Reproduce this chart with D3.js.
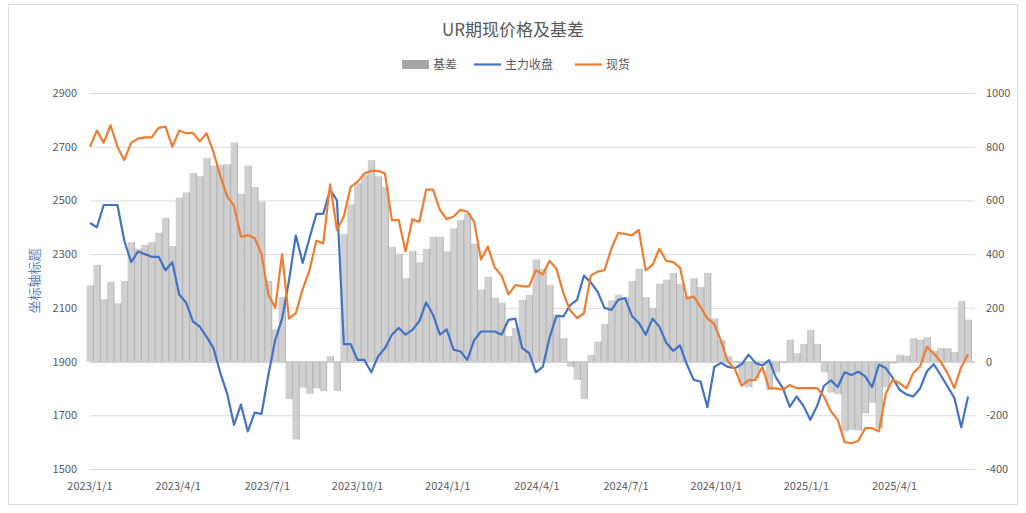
<!DOCTYPE html>
<html><head><meta charset="utf-8">
<script src="https://cdn.jsdelivr.net/npm/d3@7"></script>
<style>body{margin:0;background:#fff;font-family:"Noto Sans CJK SC","Noto Sans",sans-serif;}</style>
</head><body>
<svg id="chart" width="1026" height="513"></svg>
<script>
// weekly samples starting 2023/1/1
var startDate = new Date(2023, 0, 1);
var spot = [2700,2760,2715,2780,2700,2650,2715,2730,2735,2735,2770,2775,2700,2760,2750,2752,2720,2750,2680,2590,
  2515,2480,2365,2370,2360,2300,2150,2100,2300,2060,2080,2170,2240,2350,2340,2560,2390,2440,2550,2570,
  2600,2610,2610,2600,2427,2427,2310,2430,2420,2540,2540,2465,2430,2440,2465,2458,2420,2280,2328,2250,
  2220,2150,2185,2180,2180,2240,2225,2275,2245,2155,2090,2062,2080,2220,2235,2240,2320,2379,2375,2370,
  2390,2240,2260,2320,2275,2270,2250,2135,2142,2104,2060,2040,1975,1900,1872,1810,1830,1832,1880,1800,
  1800,1795,1813,1801,1801,1801,1801,1770,1715,1683,1600,1596,1605,1652,1652,1640,1780,1832,1820,1800,
  1857,1882,1955,1930,1900,1857,1801,1880,1926];
var futures = [2416,2400,2483,2483,2483,2350,2270,2310,2300,2290,2290,2240,2270,2150,2120,2050,2030,1992,1950,1857,
  1780,1664,1740,1640,1710,1705,1850,1980,2060,2200,2370,2267,2360,2450,2450,2540,2500,1965,1965,1906,
  1906,1860,1920,1950,2000,2025,2000,2018,2050,2120,2075,2000,2020,1944,1938,1906,1980,2012,2012,2012,
  2000,2055,2060,1950,1932,1860,1880,1990,2070,2068,2110,2130,2220,2195,2160,2100,2092,2130,2136,2070,
  2044,2000,2060,2030,1970,1940,1960,1890,1832,1826,1730,1880,1895,1880,1875,1890,1926,1895,1885,1905,
  1840,1801,1731,1770,1735,1683,1735,1810,1830,1805,1860,1850,1862,1845,1805,1888,1876,1840,1795,1778,
  1770,1800,1864,1890,1850,1807,1765,1655,1770];
var basis = [284,360,232,297,217,300,445,420,435,445,480,535,430,610,630,702,690,758,730,733,
  735,816,625,730,650,595,300,120,240,-140,-290,-97,-120,-100,-110,20,-110,475,585,664,
  694,750,690,650,427,402,310,412,370,420,465,465,410,496,527,552,440,268,316,238,
  220,95,125,230,248,380,345,285,175,87,-20,-68,-140,25,75,140,228,249,239,300,
  346,240,200,290,305,330,290,245,310,278,330,160,80,20,-3,-80,-96,-63,-5,-105,
  -40,-6,82,31,66,118,66,-40,-115,-122,-260,-254,-257,-193,-153,-248,-96,-8,25,22,
  87,82,91,40,50,50,36,225,156];
var leftTicks = [1500,1700,1900,2100,2300,2500,2700,2900];
var rightTicks = [-400,-200,0,200,400,600,800,1000];
var xTickLabels = ['2023/1/1','2023/4/1','2023/7/1','2023/10/1','2024/1/1','2024/4/1','2024/7/1','2024/10/1','2025/1/1','2025/4/1'];

var dates = d3.timeWeek.range(startDate, d3.timeDay.offset(startDate, 7 * spot.length));
var parse = d3.timeParse('%Y/%m/%d');

var svg = d3.select('#chart');
svg.append('rect').attr('x', 8.5).attr('y', 4.5).attr('width', 1009).attr('height', 500)
  .attr('fill', '#fff').attr('stroke', '#d9d9d9');

var x = d3.scaleTime().domain([startDate, new Date(2025, 5, 19)]).range([90, 972]);
var yL = d3.scaleLinear().domain([1500, 2900]).range([469, 93]);
var yR = d3.scaleLinear().domain([-400, 1000]).range([469, 93]);

// grid
svg.append('g').selectAll('line').data(leftTicks).enter().append('line')
  .attr('x1', 90).attr('x2', 975)
  .attr('y1', function(d) {return yL(d) + 0.5;}).attr('y2', function(d) {return yL(d) + 0.5;})
  .attr('stroke', '#d9d9d9');

// basis bars
var bw = x(dates[1]) - x(dates[0]);
var bars = svg.append('g');
bars.selectAll('rect').data(basis).enter().append('rect')
  .attr('x', function(d, i) {return x(dates[i]) - bw / 2;})
  .attr('width', bw)
  .attr('y', function(d) {return Math.min(yR(d), yR(0));})
  .attr('height', function(d) {return Math.abs(yR(d) - yR(0));})
  .attr('fill', '#d0d0d0');
bars.selectAll('line').data(basis).enter().append('line')
  .attr('x1', function(d, i) {return x(dates[i]) + bw / 2;})
  .attr('x2', function(d, i) {return x(dates[i]) + bw / 2;})
  .attr('y1', function(d) {return yR(d);}).attr('y2', yR(0))
  .attr('stroke', '#a6a6a6').attr('stroke-width', 0.8);

// zero line
svg.append('line').attr('x1', 90).attr('x2', 975).attr('y1', yR(0) + 0.5).attr('y2', yR(0) + 0.5)
  .attr('stroke', '#bfbfbf');

var line = function(scale) {
  return d3.line().x(function(d, i) {return x(dates[i]);}).y(function(d) {return scale(d);});};

svg.append('path').datum(futures).attr('d', line(yL)).attr('fill', 'none')
  .attr('stroke', '#4472c4').attr('stroke-width', 2.2).attr('stroke-linejoin', 'round');
svg.append('path').datum(spot).attr('d', line(yL)).attr('fill', 'none')
  .attr('stroke', '#ed7d31').attr('stroke-width', 2.2).attr('stroke-linejoin', 'round');

var txt = '#595959';
// left axis labels
svg.append('g').selectAll('text').data(leftTicks).enter().append('text')
  .attr('x', 77).attr('y', function(d) {return yL(d) + 4;}).attr('text-anchor', 'end')
  .attr('font-size', 11).attr('fill', txt).text(function(d) {return d;});
// right axis labels
svg.append('g').selectAll('text').data(rightTicks).enter().append('text')
  .attr('x', 986).attr('y', function(d) {return yR(d) + 4;}).attr('text-anchor', 'start')
  .attr('font-size', 11).attr('fill', txt).text(function(d) {return d;});
// x labels
svg.append('g').selectAll('text').data(xTickLabels).enter().append('text')
  .attr('x', function(d) {return x(parse(d));}).attr('y', 490).attr('text-anchor', 'middle')
  .attr('font-size', 11).attr('fill', txt).text(function(d) {return d;});

// axis title
svg.append('text').attr('transform', 'translate(39,281) rotate(-90)').attr('text-anchor', 'middle')
  .attr('font-size', 13).attr('fill', '#5b7fb5').text('坐标轴标题');

// title
svg.append('text').attr('x', 513).attr('y', 36).attr('text-anchor', 'middle')
  .attr('font-size', 17).attr('fill', txt).text('UR期现价格及基差');

// legend
var lg = svg.append('g').attr('font-size', 12).attr('fill', txt);
lg.append('rect').attr('x', 402).attr('y', 60).attr('width', 27).attr('height', 9).attr('fill', '#a6a6a6');
lg.append('text').attr('x', 433).attr('y', 69).text('基差');
lg.append('line').attr('x1', 474).attr('x2', 501).attr('y1', 64.5).attr('y2', 64.5).attr('stroke', '#4472c4').attr('stroke-width', 2.2);
lg.append('text').attr('x', 505).attr('y', 69).text('主力收盘');
lg.append('line').attr('x1', 575).attr('x2', 602).attr('y1', 64.5).attr('y2', 64.5).attr('stroke', '#ed7d31').attr('stroke-width', 2.2);
lg.append('text').attr('x', 606).attr('y', 69).text('现货');
</script>
</body></html>
